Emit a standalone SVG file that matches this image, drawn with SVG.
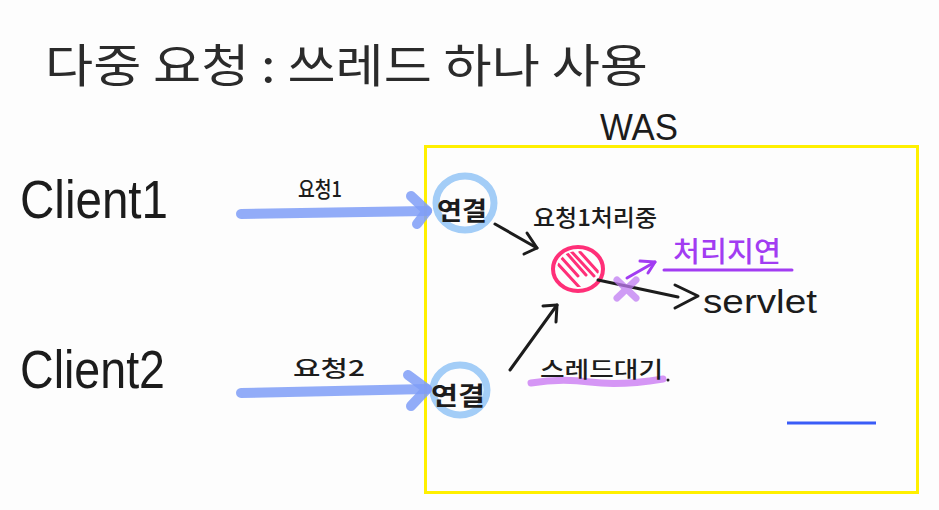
<svg xmlns="http://www.w3.org/2000/svg" width="939" height="510" viewBox="0 0 939 510">
<style>
.hw{font-family:"Noto Sans CJK KR","Noto Sans",sans-serif;fill:#1c1c1c}
.lat{font-family:"Liberation Sans","Noto Sans",sans-serif;fill:#1c1c1c}
.blue{fill:none;stroke:#7f9ef7;stroke-width:10;stroke-linecap:round;stroke-linejoin:round;opacity:.85}
.ink{fill:none;stroke:#1c1c1c;stroke-width:3;stroke-linecap:round;stroke-linejoin:round}
.ring{fill:none;stroke:#a3cdf7;stroke-width:7}
.purp{fill:none;stroke:#a23cf2;stroke-width:3;stroke-linecap:round;stroke-linejoin:round}
</style>
<defs>
<clipPath id="cc"><ellipse cx="578" cy="269" rx="21" ry="18"/></clipPath>
</defs>
<rect width="939" height="510" fill="#fdfdfd"/>
<g id="title"><text x="45" y="82" font-size="46" textLength="603" lengthAdjust="spacingAndGlyphs" style="font-family:'Noto Sans CJK KR','Noto Sans',sans-serif;fill:#2b2b2b">다중 요청 : 쓰레드 하나 사용</text></g>

<g id="was">
<rect x="425.5" y="146.5" width="492" height="346" fill="none" stroke="#fff000" stroke-width="3"/>
<text class="lat" x="639" y="140" font-size="36" text-anchor="middle" textLength="78" lengthAdjust="spacingAndGlyphs">WAS</text>
</g>

<g id="client1"><text class="lat" x="20" y="218" font-size="54" textLength="148" lengthAdjust="spacingAndGlyphs">Client1</text></g>
<g id="client2"><text class="lat" x="20" y="388" font-size="54" textLength="145" lengthAdjust="spacingAndGlyphs">Client2</text></g>

<g id="conn1">
<ellipse class="ring" cx="465" cy="203" rx="29" ry="27"/>
<text class="hw" x="462" y="220" font-size="25" text-anchor="middle" font-weight="bold" textLength="50" lengthAdjust="spacingAndGlyphs">연결</text>
</g>
<g id="conn2">
<ellipse class="ring" cx="460" cy="390" rx="27" ry="25"/>
<text class="hw" x="458" y="405" font-size="25" text-anchor="middle" font-weight="bold" textLength="54" lengthAdjust="spacingAndGlyphs">연결</text>
</g>

<g id="thread">
<ellipse cx="578" cy="269" rx="25" ry="22" fill="none" stroke="#ff2f78" stroke-width="4"/>
<g clip-path="url(#cc)" stroke="#ff2f78" stroke-width="3" stroke-linecap="round">
<line x1="560" y1="256" x2="578" y2="276"/>
<line x1="564" y1="250" x2="586" y2="275"/>
<line x1="570" y1="250" x2="594" y2="276"/>
<line x1="558" y1="264" x2="580" y2="288"/>
<line x1="580" y1="252" x2="598" y2="272"/>
</g>
</g>

<g id="servlet"><text class="lat" x="703" y="313" font-size="34" textLength="114" lengthAdjust="spacingAndGlyphs">servlet</text></g>

<g id="label-processing"><text class="hw" x="533" y="226" font-size="23" font-weight="500" textLength="124" lengthAdjust="spacingAndGlyphs">요청1처리중</text></g>

<g id="label-delay">
<text x="673" y="262" font-size="28" font-weight="500" textLength="108" lengthAdjust="spacingAndGlyphs" style="font-family:'Noto Sans CJK KR','Noto Sans',sans-serif;fill:#a23cf2">처리지연</text>
<path class="purp" d="M664 270 L792 270"/>
</g>

<g id="label-wait">
<path d="M531 383 Q560 378 590 382 T663 379" fill="none" stroke="#d596f5" stroke-width="7" stroke-linecap="round"/>
<text class="hw" x="540" y="377" font-size="22" font-weight="500" textLength="123" lengthAdjust="spacingAndGlyphs">스레드대기</text>
<circle cx="668" cy="380" r="1.5" fill="#1c1c1c"/>
</g>

<g id="connectors">
<path class="blue" d="M241 214 L427 211"/>
<path class="blue" d="M411 196 L427 211 L417 224"/>
<text class="hw" x="298" y="197" font-size="22" font-weight="500" textLength="44" lengthAdjust="spacingAndGlyphs">요청1</text>
<path class="blue" d="M241 393 L427 389"/>
<path class="blue" d="M408 375 L427 389 L411 406"/>
<text class="hw" x="293" y="376" font-size="22" font-weight="500" textLength="72" lengthAdjust="spacingAndGlyphs">요청2</text>

<path class="ink" d="M495 224 L537 248"/>
<path class="ink" d="M527 233 L537 248 L524 254"/>

<path class="ink" d="M510 370 L557 305"/>
<path class="ink" d="M543 306 L557 305 L556 322"/>

<path class="ink" d="M598 280 L678 297"/>
<path class="ink" d="M675 285 L698 296 L675 308"/>

<path class="purp" d="M627 278 L655 262"/>
<path class="purp" d="M640 261 L655 262 L648 273"/>
<g stroke="#c07cf3" stroke-width="7" stroke-linecap="round" opacity=".75">
<line x1="617" y1="280" x2="636" y2="298"/>
<line x1="636" y1="280" x2="617" y2="298"/>
</g>
</g>

<line x1="787" y1="423" x2="876" y2="423" stroke="#3a5cf7" stroke-width="3"/>
</svg>
